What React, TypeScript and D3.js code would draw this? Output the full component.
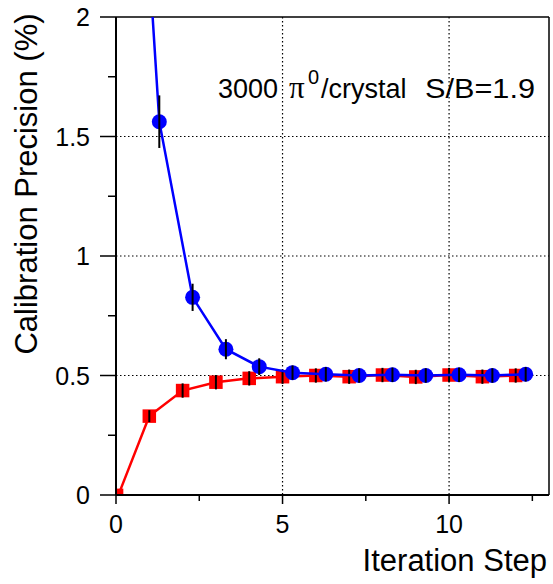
import React from "react";
import * as d3 from "d3";

const redX = [0.1, 1, 2, 3, 4, 5, 6, 7, 8, 9, 10, 11, 12];
const redY = [0.01, 0.33, 0.437, 0.472, 0.488, 0.495, 0.5, 0.495, 0.502, 0.494, 0.502, 0.495, 0.5];
const redErr = [0, 0.025, 0.03, 0.03, 0.03, 0.03, 0.03, 0.03, 0.03, 0.03, 0.03, 0.03, 0.03];

const blueX = [0.3, 1.3, 2.3, 3.3, 4.3, 5.3, 6.3, 7.3, 8.3, 9.3, 10.3, 11.3, 12.3];
const blueY = [3.75, 1.562, 0.827, 0.61, 0.537, 0.512, 0.505, 0.5, 0.503, 0.5, 0.503, 0.5, 0.505];
const blueErr = [0.2, 0.11, 0.057, 0.042, 0.035, 0.03, 0.03, 0.03, 0.03, 0.03, 0.03, 0.03, 0.03];

const xMajor = [0, 5, 10];
const xMinor = [2.5, 7.5, 12.5];
const xGrid = [5, 10];
const yMajor = [0, 0.5, 1, 1.5, 2];
const yMinor = [0.25, 0.75, 1.25, 1.75];
const yGrid = [0.5, 1, 1.5];

const W = 553;
const H = 584;
const L = 116, R = 549, T = 17, B = 495;
const font = "'Liberation Sans', Arial, Helvetica, sans-serif";

export default function App() {
  const x = d3.scaleLinear().domain([0, 13]).range([L, R]);
  const y = d3.scaleLinear().domain([0, 2]).range([B, T]);
  const line = d3.line<number>();
  const redPts: [number, number][] = redX.map((v, i) => [x(v), y(redY[i])]);
  const bluePts: [number, number][] = blueX.map((v, i) => [x(v), y(blueY[i])]);
  const sq = 13.5;
  return (
    <svg width={W} height={H} style={{ position: "absolute", left: 0, top: 0, background: "#fff" }}>
      <defs>
        <clipPath id="plot">
          <rect x={L} y={T} width={R - L} height={B - T} />
        </clipPath>
      </defs>
      <rect x={0} y={0} width={W} height={H} fill="#fff" />
      {xGrid.map((v) => (
        <line key={"gx" + v} x1={x(v)} x2={x(v)} y1={T} y2={B} stroke="#000" strokeWidth={1.2} strokeDasharray="1.5,2.5" />
      ))}
      {yGrid.map((v) => (
        <line key={"gy" + v} x1={L} x2={R} y1={y(v)} y2={y(v)} stroke="#000" strokeWidth={1.2} strokeDasharray="1.5,2.5" />
      ))}
      <line x1={L} x2={R} y1={T} y2={T} stroke="#000" strokeWidth={1.5} />
      <line x1={R} x2={R} y1={T} y2={B} stroke="#000" strokeWidth={1.5} />
      <g clipPath="url(#plot)">
        <path d={line(redPts) || ""} fill="none" stroke="#ff0000" strokeWidth={2.5} />
        {redPts.map((p, i) => (
          <rect key={"rs" + i} x={p[0] - (i === 0 ? 4 : sq / 2)} y={p[1] - (i === 0 ? 4 : sq / 2)} width={i === 0 ? 8 : sq} height={i === 0 ? 8 : sq} fill="#ff0000" />
        ))}
        {redX.map((v, i) =>
          redErr[i] > 0 ? (
            <line key={"re" + i} x1={x(v)} x2={x(v)} y1={y(redY[i] - redErr[i])} y2={y(redY[i] + redErr[i])} stroke="#000" strokeWidth={2} />
          ) : null
        )}
        <path d={line(bluePts) || ""} fill="none" stroke="#0000ff" strokeWidth={2.5} />
        {bluePts.map((p, i) => (
          <circle key={"bc" + i} cx={p[0]} cy={p[1]} r={7.5} fill="#0000ff" />
        ))}
        {blueX.map((v, i) => (
          <line key={"be" + i} x1={x(v)} x2={x(v)} y1={y(blueY[i] - blueErr[i])} y2={y(blueY[i] + blueErr[i])} stroke="#000" strokeWidth={2} />
        ))}
      </g>
      <line x1={L} x2={L} y1={T} y2={B} stroke="#000" strokeWidth={2} />
      <line x1={L} x2={R} y1={B} y2={B} stroke="#000" strokeWidth={2} />
      {yMajor.map((v) => (
        <g key={"ym" + v}>
          <line x1={L - 16} x2={L} y1={y(v)} y2={y(v)} stroke="#000" strokeWidth={1.5} />
          <text x={90} y={y(v)} dy="0.36em" textAnchor="end" fontFamily={font} fontSize={25}>
            {String(v)}
          </text>
        </g>
      ))}
      {yMinor.map((v) => (
        <line key={"yn" + v} x1={L - 8} x2={L} y1={y(v)} y2={y(v)} stroke="#000" strokeWidth={1.5} />
      ))}
      {xMajor.map((v) => (
        <g key={"xm" + v}>
          <line x1={x(v)} x2={x(v)} y1={B} y2={B + 9} stroke="#000" strokeWidth={1.5} />
          <text x={x(v)} y={533} textAnchor="middle" fontFamily={font} fontSize={25}>
            {String(v)}
          </text>
        </g>
      ))}
      {xMinor.map((v) => (
        <line key={"xn" + v} x1={x(v)} x2={x(v)} y1={B} y2={B + 6} stroke="#000" strokeWidth={1.5} />
      ))}
      <text x={547} y={571} textAnchor="end" fontFamily={font} fontSize={31}>
        Iteration Step
      </text>
      <text transform="translate(37,184) rotate(-90)" textAnchor="middle" fontFamily={font} fontSize={31}>
        Calibration Precision (%)
      </text>
      <g fontFamily={font} fontSize={27}>
        <text x={218} y={98}>3000</text>
        <text x={289} y={98} fontFamily="'Liberation Serif', 'DejaVu Serif', serif" fontSize={31}>π</text>
        <text x={308} y={84} fontSize={20}>0</text>
        <text x={321} y={98}>/crystal</text>
        <text x={425} y={98} textLength={110} lengthAdjust="spacingAndGlyphs">S/B=1.9</text>
      </g>
    </svg>
  );
}
